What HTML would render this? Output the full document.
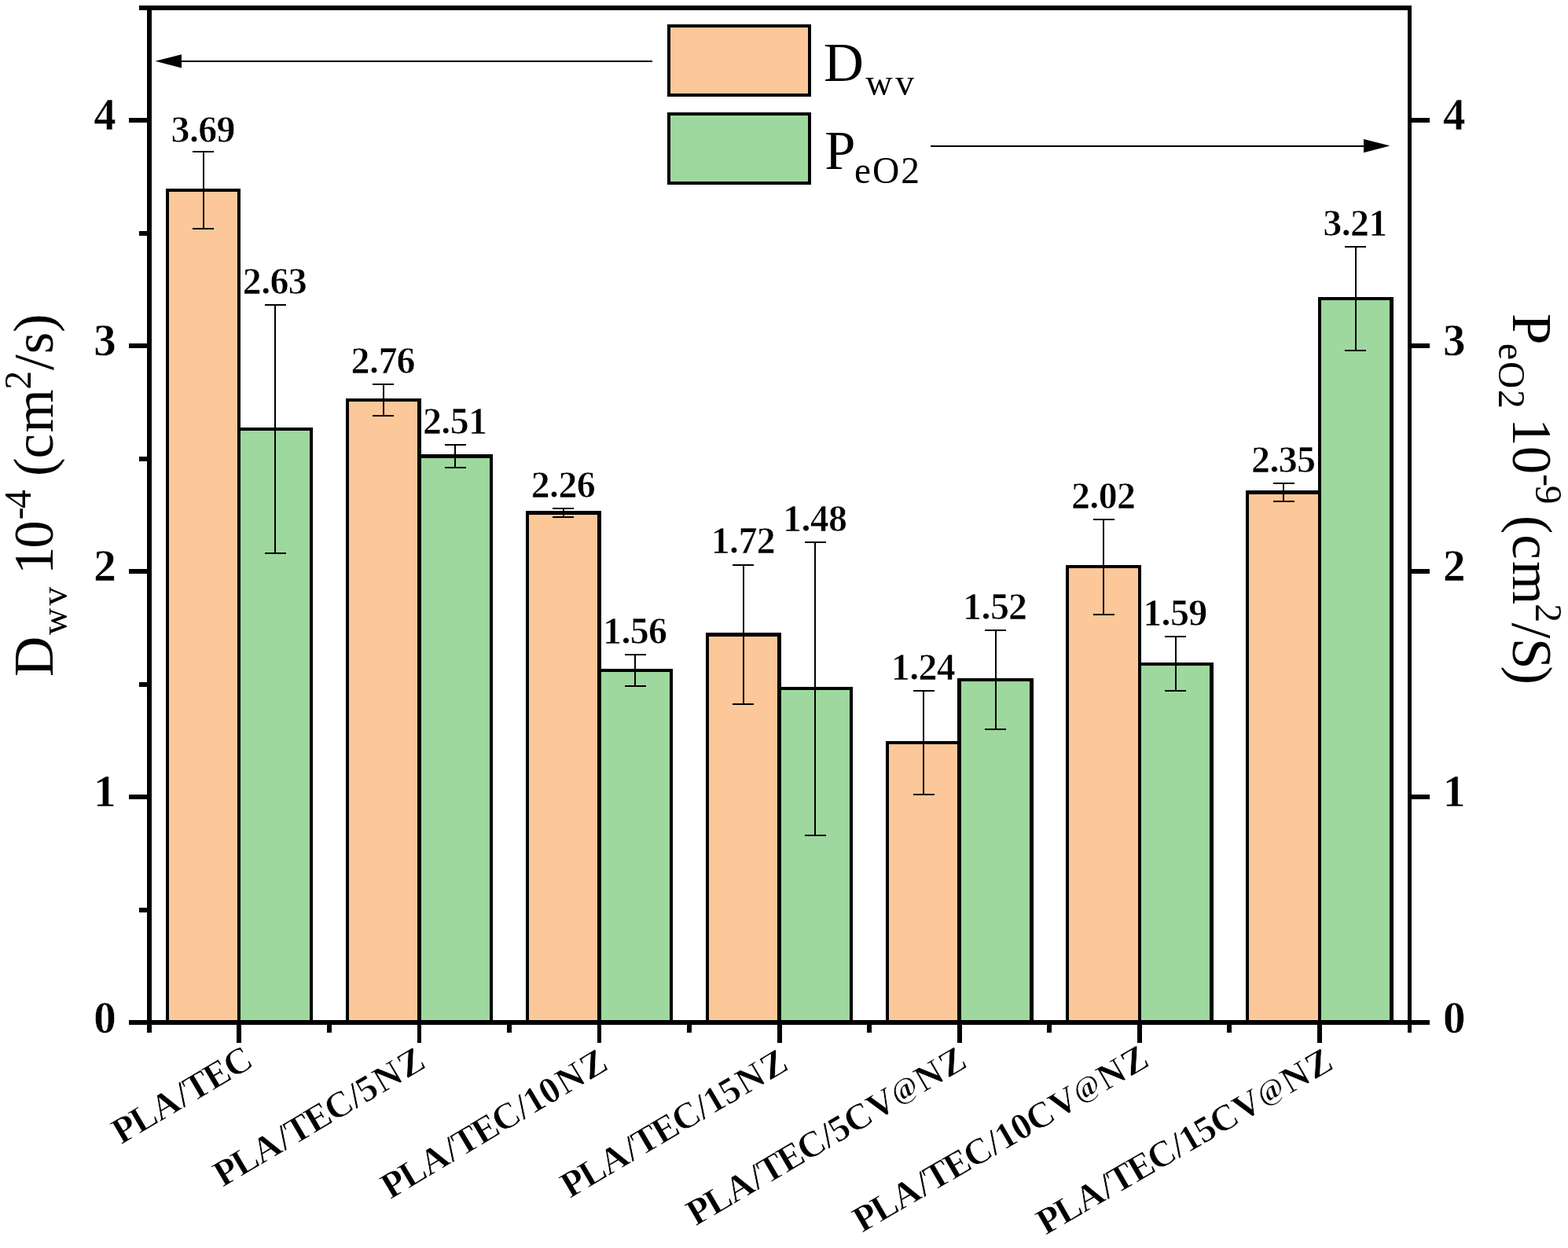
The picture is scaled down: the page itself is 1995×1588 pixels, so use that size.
<!DOCTYPE html>
<html lang="en"><head><meta charset="utf-8"><title>Dwv and PeO2 bar chart</title>
<style>
html,body{margin:0;padding:0;background:#fff;}
body{width:1995px;height:1588px;overflow:hidden;}
svg{display:block;}
text{font-family:"Liberation Serif","DejaVu Serif",serif;fill:#000;font-kerning:none;white-space:pre;}
.tk{font-size:57px;font-weight:bold;stroke:#fff;stroke-width:0.5px;}
.dl{font-size:48px;font-weight:bold;stroke:#fff;stroke-width:0.7px;}
.xl{font-size:47px;font-weight:bold;stroke:#fff;stroke-width:0.7px;}
.ti{font-size:71px;}
.lg{font-size:70.5px;}
</style></head><body>
<svg xmlns="http://www.w3.org/2000/svg" width="1995" height="1588" viewBox="0 0 1995 1588">
<rect x="0" y="0" width="1995" height="1588" fill="#fff"/>
<g id="bars" shape-rendering="crispEdges">
<rect x="211" y="240" width="95" height="1061" fill="#000"/>
<rect x="215" y="244" width="87" height="1057" fill="#FCC899"/>
<rect x="302" y="544" width="96" height="757" fill="#000"/>
<rect x="306" y="548" width="88" height="753" fill="#9ED89E"/>
<rect x="440" y="507" width="96" height="794" fill="#000"/>
<rect x="444" y="511" width="87" height="790" fill="#FCC899"/>
<rect x="531" y="578" width="96" height="723" fill="#000"/>
<rect x="536" y="583" width="87" height="718" fill="#9ED89E"/>
<rect x="669" y="650" width="96" height="651" fill="#000"/>
<rect x="673" y="655" width="87" height="646" fill="#FCC899"/>
<rect x="760" y="851" width="96" height="450" fill="#000"/>
<rect x="765" y="855" width="87" height="446" fill="#9ED89E"/>
<rect x="898" y="805" width="96" height="496" fill="#000"/>
<rect x="902" y="810" width="87" height="491" fill="#FCC899"/>
<rect x="989" y="874" width="96" height="427" fill="#000"/>
<rect x="994" y="878" width="87" height="423" fill="#9ED89E"/>
<rect x="1127" y="943" width="96" height="358" fill="#000"/>
<rect x="1131" y="947" width="87" height="354" fill="#FCC899"/>
<rect x="1218" y="863" width="97" height="438" fill="#000"/>
<rect x="1223" y="867" width="87" height="434" fill="#9ED89E"/>
<rect x="1356" y="719" width="96" height="582" fill="#000"/>
<rect x="1360" y="723" width="88" height="578" fill="#FCC899"/>
<rect x="1448" y="843" width="96" height="458" fill="#000"/>
<rect x="1452" y="847" width="87" height="454" fill="#9ED89E"/>
<rect x="1585" y="624" width="96" height="677" fill="#000"/>
<rect x="1589" y="629" width="88" height="672" fill="#FCC899"/>
<rect x="1677" y="378" width="96" height="923" fill="#000"/>
<rect x="1681" y="382" width="87" height="919" fill="#9ED89E"/>
</g>
<g id="errorbars" shape-rendering="crispEdges" fill="#000">
<rect x="258" y="192" width="2" height="100"/>
<rect x="245" y="192" width="27" height="2"/>
<rect x="245" y="290" width="27" height="2"/>
<rect x="349" y="387" width="2" height="318"/>
<rect x="337" y="387" width="27" height="2"/>
<rect x="337" y="703" width="27" height="2"/>
<rect x="487" y="488" width="2" height="42"/>
<rect x="474" y="488" width="27" height="2"/>
<rect x="474" y="528" width="27" height="2"/>
<rect x="578" y="565" width="2" height="31"/>
<rect x="566" y="565" width="27" height="2"/>
<rect x="566" y="594" width="27" height="2"/>
<rect x="716" y="646" width="2" height="13"/>
<rect x="703" y="646" width="27" height="2"/>
<rect x="703" y="657" width="27" height="2"/>
<rect x="807" y="832" width="2" height="42"/>
<rect x="795" y="832" width="27" height="2"/>
<rect x="795" y="872" width="27" height="2"/>
<rect x="945" y="718" width="2" height="179"/>
<rect x="932" y="718" width="27" height="2"/>
<rect x="932" y="895" width="27" height="2"/>
<rect x="1036" y="689" width="2" height="375"/>
<rect x="1024" y="689" width="27" height="2"/>
<rect x="1024" y="1062" width="27" height="2"/>
<rect x="1174" y="878" width="2" height="134"/>
<rect x="1162" y="878" width="27" height="2"/>
<rect x="1162" y="1010" width="27" height="2"/>
<rect x="1266" y="801" width="2" height="128"/>
<rect x="1253" y="801" width="27" height="2"/>
<rect x="1253" y="927" width="27" height="2"/>
<rect x="1403" y="660" width="2" height="123"/>
<rect x="1391" y="660" width="27" height="2"/>
<rect x="1391" y="781" width="27" height="2"/>
<rect x="1495" y="809" width="2" height="71"/>
<rect x="1482" y="809" width="27" height="2"/>
<rect x="1482" y="878" width="27" height="2"/>
<rect x="1632" y="614" width="2" height="25"/>
<rect x="1620" y="614" width="27" height="2"/>
<rect x="1620" y="637" width="27" height="2"/>
<rect x="1724" y="313" width="2" height="134"/>
<rect x="1711" y="313" width="27" height="2"/>
<rect x="1711" y="445" width="27" height="2"/>
</g>
<g id="axes" shape-rendering="crispEdges" fill="#000">
<rect x="187" y="7" width="6" height="1307"/>
<rect x="1791" y="7" width="5" height="1307"/>
<rect x="177" y="7" width="1619" height="6"/>
<rect x="164" y="1298" width="1655" height="6"/>
<rect x="164" y="1011" width="24" height="6"/>
<rect x="1795" y="1011" width="24" height="6"/>
<rect x="164" y="724" width="24" height="6"/>
<rect x="1795" y="724" width="24" height="6"/>
<rect x="164" y="437" width="24" height="6"/>
<rect x="1795" y="437" width="24" height="6"/>
<rect x="164" y="150" width="24" height="6"/>
<rect x="1795" y="150" width="24" height="6"/>
<rect x="177" y="1155" width="11" height="6"/>
<rect x="177" y="868" width="11" height="6"/>
<rect x="177" y="581" width="11" height="6"/>
<rect x="177" y="294" width="11" height="6"/>
<rect x="301" y="1300" width="6" height="27"/>
<rect x="531" y="1300" width="5" height="27"/>
<rect x="760" y="1300" width="5" height="27"/>
<rect x="989" y="1300" width="6" height="27"/>
<rect x="1218" y="1300" width="6" height="27"/>
<rect x="1447" y="1300" width="6" height="27"/>
<rect x="1676" y="1300" width="6" height="27"/>
<rect x="416" y="1300" width="6" height="14"/>
<rect x="645" y="1300" width="6" height="14"/>
<rect x="874" y="1300" width="6" height="14"/>
<rect x="1103" y="1300" width="6" height="14"/>
<rect x="1332" y="1300" width="6" height="14"/>
<rect x="1561" y="1300" width="6" height="14"/>
</g>
<g id="arrows" fill="#000">
<rect x="229" y="77" width="601" height="2" shape-rendering="crispEdges"/>
<path d="M197.5 77.8 L231 69.2 L231 86.4 Z"/>
<rect x="1184" y="185" width="553" height="2" shape-rendering="crispEdges"/>
<path d="M1768.5 185.6 L1735 177 L1735 194.2 Z"/>
</g>
<g id="legend">
<g shape-rendering="crispEdges" stroke="#000" stroke-width="4">
<rect x="851" y="33" width="179" height="88" fill="#FCC899"/>
<rect x="851" y="145" width="179" height="88" fill="#9ED89E"/>
</g>
<text class="lg"><tspan x="1047.9" y="103.1">D</tspan><tspan x="1101.3 1139.2" y="121.2" font-size="47.5">wv</tspan></text>
<text class="lg"><tspan x="1049.2" y="215">P</tspan><tspan x="1087 1110 1146.2" y="233" font-size="47.5">eO2</tspan></text>
</g>
<g id="yticklabels">
<text class="tk"><tspan x="119.3" y="1314.1">0</tspan></text>
<text class="tk"><tspan x="119.3" y="1025.8">1</tspan></text>
<text class="tk"><tspan x="119.3" y="738.8">2</tspan></text>
<text class="tk"><tspan x="119.3" y="451.8">3</tspan></text>
<text class="tk"><tspan x="119.3" y="164.8">4</tspan></text>
<text class="tk"><tspan x="1836" y="1314.1">0</tspan></text>
<text class="tk"><tspan x="1836" y="1025.8">1</tspan></text>
<text class="tk"><tspan x="1836" y="738.8">2</tspan></text>
<text class="tk"><tspan x="1836" y="451.8">3</tspan></text>
<text class="tk"><tspan x="1836" y="164.8">4</tspan></text>
</g>
<g id="datalabels">
<text class="dl"><tspan x="217.5 240.9 252.3 275.5" y="180.5">3.69</tspan></text>
<text class="dl"><tspan x="308.8 332.2 343.6 366.8" y="374">2.63</tspan></text>
<text class="dl"><tspan x="446.6 470 481.4 504.6" y="475">2.76</tspan></text>
<text class="dl"><tspan x="537.9 561.3 572.7 595.9" y="552.4">2.51</tspan></text>
<text class="dl"><tspan x="675.7 699.1 710.5 733.7" y="633">2.26</tspan></text>
<text class="dl"><tspan x="767 790.4 801.8 825" y="819">1.56</tspan></text>
<text class="dl"><tspan x="904.7 928.1 939.5 962.7" y="704">1.72</tspan></text>
<text class="dl"><tspan x="996 1019.4 1030.8 1054" y="676">1.48</tspan></text>
<text class="dl"><tspan x="1133.8 1157.2 1168.6 1191.8" y="865">1.24</tspan></text>
<text class="dl"><tspan x="1225.1 1248.5 1259.9 1283.1" y="788">1.52</tspan></text>
<text class="dl"><tspan x="1362.9 1386.3 1397.7 1420.9" y="647">2.02</tspan></text>
<text class="dl"><tspan x="1454.2 1477.6 1489 1512.2" y="796.4">1.59</tspan></text>
<text class="dl"><tspan x="1592 1615.4 1626.8 1650" y="601">2.35</tspan></text>
<text class="dl"><tspan x="1683.3 1706.7 1718.1 1741.3" y="300">3.21</tspan></text>
</g>
<g id="xticklabels">
<text class="xl" transform="translate(324.5 1355.9) rotate(-30.58)"><tspan x="-198 -171.2 -140.5 -105.4 -92.4 -63 -33.6" y="0">PLA/TEC</tspan></text>
<text class="xl" transform="translate(543.5 1357.6) rotate(-30.51)"><tspan x="-302.2 -275.6 -245.1 -210 -197.1 -167.9 -138.6 -104.9 -91.9 -66.6 -30.9" y="0">PLA/TEC/5NZ</tspan></text>
<text class="xl" transform="translate(775.9 1359.5) rotate(-30.87)"><tspan x="-325.4 -298.7 -268.2 -233.1 -220.2 -190.9 -161.7 -127.9 -114.9 -92 -66.6 -31" y="0">PLA/TEC/10NZ</tspan></text>
<text class="xl" transform="translate(1005.2 1360.0) rotate(-30.52)"><tspan x="-325.4 -298.7 -268.2 -233.1 -220.2 -190.9 -161.7 -127.9 -114.9 -92 -66.6 -31" y="0">PLA/TEC/15NZ</tspan></text>
<text class="xl" transform="translate(1232.2 1357.0) rotate(-30.39)"><tspan x="-402.4 -375.9 -345.6 -310.8 -298 -269 -240 -206.4 -193.5 -170.9 -136.8" y="0">PLA/TEC/5CV</tspan><tspan x="-102.4" y="-4.6" font-size="37">@</tspan><tspan x="-66.2 -30.8" y="0">NZ</tspan></text>
<text class="xl" transform="translate(1464.1 1355.2) rotate(-30.21)"><tspan x="-425.1 -398.7 -368.4 -333.5 -320.8 -291.7 -262.7 -229.1 -216.2 -193.5 -170.9 -136.8" y="0">PLA/TEC/10CV</tspan><tspan x="-102.4" y="-4.6" font-size="37">@</tspan><tspan x="-66.2 -30.8" y="0">NZ</tspan></text>
<text class="xl" transform="translate(1698.3 1359.2) rotate(-30.03)"><tspan x="-425.1 -398.7 -368.4 -333.5 -320.8 -291.7 -262.7 -229.1 -216.2 -193.5 -170.9 -136.8" y="0">PLA/TEC/15CV</tspan><tspan x="-102.4" y="-4.6" font-size="37">@</tspan><tspan x="-66.2 -30.8" y="0">NZ</tspan></text>
</g>
<g id="titles">
<text class="ti" transform="translate(66.9 860) rotate(-90)"><tspan x="-1.1" y="0">D</tspan><tspan x="52 89.5" y="18.1" font-size="47.5">wv</tspan><tspan x="114" y="0"> </tspan><tspan x="129.1 162.3" y="0">10</tspan><tspan x="198.8 213" y="-28.3" font-size="47.5">-4</tspan><tspan x="240" y="0"> </tspan><tspan x="254" y="0">(</tspan><tspan x="276.5 309.4" y="0">cm</tspan><tspan x="364.5" y="-28.3" font-size="47.5">2</tspan><tspan x="388.9" y="0">/</tspan><tspan x="409.7" y="0">s</tspan><tspan x="436.9" y="0">)</tspan></text>
<text class="ti" transform="translate(1925.3 400) rotate(90)"><tspan x="-0.9" y="0">P</tspan><tspan x="37.1 59.9 95.9" y="18.2" font-size="47.5">eO2</tspan><tspan x="118" y="0"> </tspan><tspan x="132.1 167.7" y="0">10</tspan><tspan x="203.2 217.8" y="-28.3" font-size="47.5">-9</tspan><tspan x="242" y="0"> </tspan><tspan x="255.7" y="0">(</tspan><tspan x="280.2 313.9" y="0">cm</tspan><tspan x="368.3" y="-28.3" font-size="47.5">2</tspan><tspan x="392.4" y="0">/</tspan><tspan x="411.9" y="0">S</tspan><tspan x="447.5" y="0">)</tspan></text>
</g>
</svg>
</body></html>
